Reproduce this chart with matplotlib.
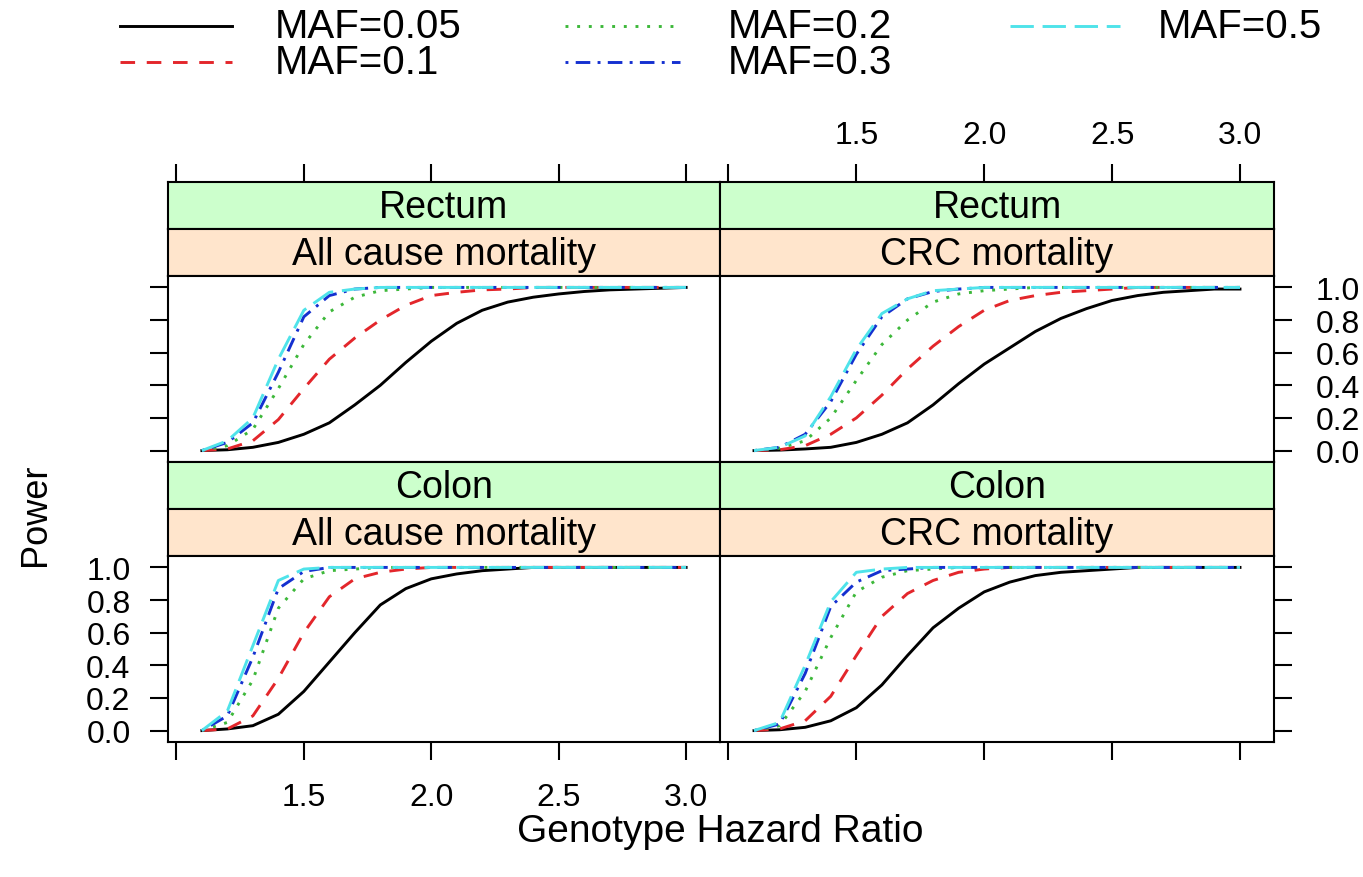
import matplotlib
matplotlib.use("Agg")
import matplotlib.pyplot as plt
from matplotlib.lines import Line2D

plt.rcParams['font.family'] = ['Liberation Sans', 'DejaVu Sans']

# ---------------- data ----------------
hazard_ratio = [1.1, 1.2, 1.3, 1.4, 1.5, 1.6, 1.7, 1.8, 1.9, 2.0,
                2.1, 2.2, 2.3, 2.4, 2.5, 2.6, 2.7, 2.8, 2.9, 3.0]

maf_labels = ["MAF=0.05", "MAF=0.1", "MAF=0.2", "MAF=0.3", "MAF=0.5"]

# Rectum / All cause mortality
rectum_all_005 = [0, 0.005, 0.02, 0.05, 0.10, 0.17, 0.28, 0.40, 0.54, 0.67, 0.78, 0.86, 0.91, 0.94, 0.96, 0.975, 0.985, 0.99, 0.995, 1.0]
rectum_all_01  = [0, 0.01, 0.06, 0.19, 0.38, 0.56, 0.69, 0.80, 0.89, 0.95, 0.97, 0.985, 0.99, 1.0, 1.0, 1.0, 1.0, 1.0, 1.0, 1.0]
rectum_all_02  = [0, 0.03, 0.13, 0.38, 0.65, 0.85, 0.94, 0.98, 0.99, 1.0, 1.0, 1.0, 1.0, 1.0, 1.0, 1.0, 1.0, 1.0, 1.0, 1.0]
rectum_all_03  = [0, 0.05, 0.17, 0.48, 0.82, 0.95, 0.99, 1.0, 1.0, 1.0, 1.0, 1.0, 1.0, 1.0, 1.0, 1.0, 1.0, 1.0, 1.0, 1.0]
rectum_all_05  = [0, 0.06, 0.20, 0.56, 0.86, 0.97, 0.99, 1.0, 1.0, 1.0, 1.0, 1.0, 1.0, 1.0, 1.0, 1.0, 1.0, 1.0, 1.0, 1.0]

# Rectum / CRC mortality
rectum_crc_005 = [0, 0.003, 0.01, 0.02, 0.05, 0.10, 0.17, 0.28, 0.41, 0.53, 0.63, 0.73, 0.81, 0.87, 0.92, 0.95, 0.97, 0.98, 0.99, 0.99]
rectum_crc_01  = [0, 0.005, 0.03, 0.10, 0.20, 0.34, 0.50, 0.64, 0.76, 0.86, 0.92, 0.95, 0.97, 0.98, 0.99, 1.0, 1.0, 1.0, 1.0, 1.0]
rectum_crc_02  = [0, 0.015, 0.06, 0.20, 0.43, 0.65, 0.80, 0.91, 0.96, 0.98, 0.99, 1.0, 1.0, 1.0, 1.0, 1.0, 1.0, 1.0, 1.0, 1.0]
rectum_crc_03  = [0, 0.02, 0.10, 0.30, 0.59, 0.82, 0.93, 0.975, 0.99, 1.0, 1.0, 1.0, 1.0, 1.0, 1.0, 1.0, 1.0, 1.0, 1.0, 1.0]
rectum_crc_05  = [0, 0.02, 0.09, 0.33, 0.62, 0.84, 0.93, 0.98, 0.99, 1.0, 1.0, 1.0, 1.0, 1.0, 1.0, 1.0, 1.0, 1.0, 1.0, 1.0]

# Colon / All cause mortality
colon_all_005 = [0, 0.01, 0.03, 0.10, 0.24, 0.42, 0.60, 0.77, 0.87, 0.93, 0.96, 0.98, 0.99, 1.0, 1.0, 1.0, 1.0, 1.0, 1.0, 1.0]
colon_all_01  = [0, 0.01, 0.09, 0.32, 0.60, 0.82, 0.93, 0.97, 0.99, 1.0, 1.0, 1.0, 1.0, 1.0, 1.0, 1.0, 1.0, 1.0, 1.0, 1.0]
colon_all_02  = [0, 0.05, 0.31, 0.75, 0.93, 0.98, 0.99, 1.0, 1.0, 1.0, 1.0, 1.0, 1.0, 1.0, 1.0, 1.0, 1.0, 1.0, 1.0, 1.0]
colon_all_03  = [0, 0.09, 0.45, 0.87, 0.975, 1.0, 1.0, 1.0, 1.0, 1.0, 1.0, 1.0, 1.0, 1.0, 1.0, 1.0, 1.0, 1.0, 1.0, 1.0]
colon_all_05  = [0, 0.12, 0.52, 0.92, 0.99, 1.0, 1.0, 1.0, 1.0, 1.0, 1.0, 1.0, 1.0, 1.0, 1.0, 1.0, 1.0, 1.0, 1.0, 1.0]

# Colon / CRC mortality
colon_crc_005 = [0, 0.005, 0.02, 0.06, 0.14, 0.28, 0.46, 0.63, 0.75, 0.85, 0.91, 0.95, 0.97, 0.98, 0.99, 1.0, 1.0, 1.0, 1.0, 1.0]
colon_crc_01  = [0, 0.01, 0.06, 0.21, 0.46, 0.70, 0.84, 0.92, 0.97, 0.99, 1.0, 1.0, 1.0, 1.0, 1.0, 1.0, 1.0, 1.0, 1.0, 1.0]
colon_crc_02  = [0, 0.03, 0.24, 0.57, 0.85, 0.94, 0.98, 0.99, 1.0, 1.0, 1.0, 1.0, 1.0, 1.0, 1.0, 1.0, 1.0, 1.0, 1.0, 1.0]
colon_crc_03  = [0, 0.04, 0.35, 0.76, 0.91, 0.98, 0.99, 1.0, 1.0, 1.0, 1.0, 1.0, 1.0, 1.0, 1.0, 1.0, 1.0, 1.0, 1.0, 1.0]
colon_crc_05  = [0, 0.05, 0.40, 0.79, 0.97, 0.99, 1.0, 1.0, 1.0, 1.0, 1.0, 1.0, 1.0, 1.0, 1.0, 1.0, 1.0, 1.0, 1.0, 1.0]

x_ticks = [1.0, 1.5, 2.0, 2.5, 3.0]
x_tick_labels = ["", "1.5", "2.0", "2.5", "3.0"]
y_ticks = [0.0, 0.2, 0.4, 0.6, 0.8, 1.0]
y_tick_labels = ["0.0", "0.2", "0.4", "0.6", "0.8", "1.0"]

# ---------------- styles ----------------
colors = ["black", "#E3262B", "#3DB83A", "#1430D0", "#4FE3EA"]
styles = ["-", (0, (5, 4)), (0, (1, 3)), (0, (1, 2.5, 5, 2.5)), (0, (8, 3))]
LW = 2.1

W, H = 1363, 878
fig = plt.figure(figsize=(W / 100, H / 100), dpi=100)

def rect(x0, x1, y0, y1):
    return [x0 / W, 1 - y1 / H, (x1 - x0) / W, (y1 - y0) / H]

cols = [(168, 720), (720, 1274)]
rows = [(183, 230, 277, 463), (463, 510, 557, 743)]
XLIM = (0.967, 3.133)
YLIM = (-0.07, 1.07)
GREEN = "#CCFFCC"
ORANGE = "#FFE5CC"
SPW = 1.5
TICKFS = 23

panels = {
    (0, 0): ("Rectum", "All cause mortality",
             [rectum_all_005, rectum_all_01, rectum_all_02, rectum_all_03, rectum_all_05]),
    (0, 1): ("Rectum", "CRC mortality",
             [rectum_crc_005, rectum_crc_01, rectum_crc_02, rectum_crc_03, rectum_crc_05]),
    (1, 0): ("Colon", "All cause mortality",
             [colon_all_005, colon_all_01, colon_all_02, colon_all_03, colon_all_05]),
    (1, 1): ("Colon", "CRC mortality",
             [colon_crc_005, colon_crc_01, colon_crc_02, colon_crc_03, colon_crc_05]),
}

for (r, c), (site, outcome, series) in panels.items():
    x0, x1 = cols[c]
    s1, s2, p0, p1 = rows[r]
    # strips
    for (ya, yb, txt, fc) in [(s1, s2, site, GREEN), (s2, p0, outcome, ORANGE)]:
        sa = fig.add_axes(rect(x0, x1, ya, yb))
        sa.set_facecolor(fc)
        sa.set_xticks([]); sa.set_yticks([])
        for sp in sa.spines.values():
            sp.set_linewidth(SPW)
        sa.text(0.5, 0.47, txt, ha="center", va="center", fontsize=27,
                transform=sa.transAxes)
    ax = fig.add_axes(rect(x0, x1, p0, p1))
    for vals, col, ls in zip(series, colors, styles):
        ax.plot(hazard_ratio, vals, color=col, linestyle=ls, lw=LW)
    ax.set_xlim(*XLIM)
    ax.set_ylim(*YLIM)
    for sp in ax.spines.values():
        sp.set_linewidth(SPW)
    ax.set_xticks(x_ticks)
    ax.set_yticks(y_ticks)
    ax.tick_params(direction="out", length=13, width=SPW, labelsize=TICKFS)
    if c == 0:
        ax.tick_params(axis="y", left=True, right=False, labelleft=(r == 1),
                       labelright=False, pad=14)
    else:
        ax.tick_params(axis="y", left=False, right=True, labelleft=False,
                       labelright=(r == 0), pad=17)
    ax.set_yticklabels(y_tick_labels)
    if r == 1:
        ax.tick_params(axis="x", bottom=True, top=False, labelbottom=(c == 0),
                       labeltop=False, pad=16)
        ax.set_xticklabels(x_tick_labels)
    else:
        ax.tick_params(axis="x", bottom=False, top=False, labelbottom=False,
                       labeltop=False)
        # top ticks above the strips
        ta = fig.add_axes(rect(x0, x1, s1, p1), facecolor="none")
        ta.set_xlim(*XLIM)
        for sp in ta.spines.values():
            sp.set_visible(False)
        ta.set_yticks([])
        ta.set_xticks(x_ticks)
        ta.set_xticklabels(x_tick_labels)
        ta.tick_params(axis="x", direction="out", length=13, width=SPW,
                       labelsize=TICKFS, bottom=False, labelbottom=False,
                       top=True, labeltop=(c == 1), pad=10)

# axis titles
fig.text(720 / W, 1 - 832 / H, "Genotype Hazard Ratio", ha="center",
         va="center", fontsize=28)
fig.text(35 / W, 1 - 515 / H, "Power", ha="center", va="center",
         rotation=90, fontsize=26)

# legend (3 columns, column-major)
leg_pos = [(120, 232, 275, 27), (120, 232, 275, 63),
           (565, 680, 728, 27), (565, 680, 728, 63),
           (1010, 1120, 1158, 27)]
for (lx0, lx1, tx, ly), lab, col, ls in zip(leg_pos, maf_labels, colors, styles):
    fig.add_artist(Line2D([lx0 / W, lx1 / W], [1 - ly / H, 1 - ly / H],
                          transform=fig.transFigure, color=col,
                          linestyle=ls, lw=LW))
    fig.text(tx / W, 1 - ly / H, lab, ha="left", va="center", fontsize=29)

fig.savefig("out.png", dpi=100)
